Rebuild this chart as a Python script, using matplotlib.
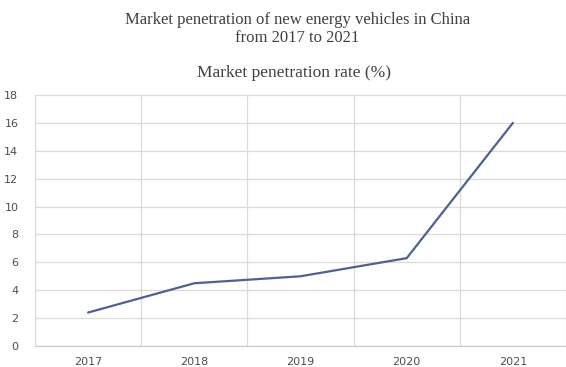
import matplotlib.pyplot as plt
import numpy as np

years = ['2017', '2018', '2019', '2020', '2021']
rate = [2.4, 4.5, 5.0, 6.3, 16.0]
yticks = [0, 2, 4, 6, 8, 10, 12, 14, 16, 18]

fig = plt.figure(figsize=(5.66, 3.67), dpi=100)
ax = fig.add_axes([35/566, 21/367, 531/566, 251/367])

x = np.arange(len(years))
ax.plot(x, rate, color='#4e6191', lw=1.6, solid_capstyle='round')

ax.set_xlim(-0.5, 4.47)
ax.set_ylim(0, 18)
ax.set_yticks(yticks)
ax.set_xticks(x)
ax.set_xticklabels(years)
ax.set_xticks(np.arange(-0.5, 5, 1), minor=True)
ax.grid(axis='y', color='#dadada', lw=0.9)
ax.grid(axis='x', which='minor', color='#dadada', lw=0.9)
ax.set_axisbelow(True)
for s in ['top', 'right', 'left']:
    ax.spines[s].set_visible(False)
ax.spines['bottom'].set_color('#c8c8c8')
ax.tick_params(axis='both', which='both', length=0, colors='#4d4d4d', labelsize=8)
ax.tick_params(axis='y', pad=12)
ax.tick_params(axis='x', pad=8)

fig.text(0.525, 0.922, 'Market penetration of new energy vehicles in China\nfrom 2017 to 2021',
         ha='center', va='center', fontsize=12, family='Liberation Serif', color='#404040',
         linespacing=1.15)
fig.text(0.52, 0.8, 'Market penetration rate (%)', ha='center', va='center',
         fontsize=12.5, family='Liberation Serif', color='#404040')

fig.savefig('out.png')
